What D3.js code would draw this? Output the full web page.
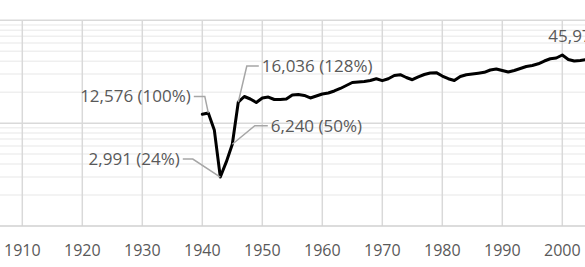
<!DOCTYPE html>
<html>
<head>
<meta charset="utf-8">
<script src="https://cdn.jsdelivr.net/npm/d3@7"></script>
<style>
  html, body { margin: 0; padding: 0; background: #fff; }
  svg { display: block; }
  text { font-family: "Open Sans", "Noto Sans", sans-serif; fill: #595959; }
</style>
</head>
<body>
<svg id="chart" width="585" height="267"></svg>
<script>
// ---- data ----
const years = d3.range(1940, 2005);
const values = [
  12200, 12576, 8600, 2991, 4200, 6240, 16036, 18160, 17170, 15870,
  17570, 17950, 16980, 16980, 17170, 18780, 18980, 18580, 17570, 18360,
  19200, 19650, 20560, 21730, 23230, 24850, 25120, 25400, 26000, 27040,
  25880, 27040, 29050, 29580, 27790, 26440, 28230, 29720, 30740, 30960,
  28730, 27040, 26000, 28430, 29580, 30060, 30600, 31200, 32880, 33650,
  32510, 31430, 32510, 33980, 35560, 36390, 37780, 40190, 42270, 42980,
  45973, 41590, 40190, 40640, 41590
];
const xTicks = [1910, 1920, 1930, 1940, 1950, 1960, 1970, 1980, 1990, 2000];
const labelYears = [1941, 1943, 1945, 1946, 2000];
const labelTexts = ["12,576 (100%)", "2,991 (24%)", "6,240 (50%)", "16,036 (128%)", "45,973 (366%)"];

// ---- layout ----
const W = 585, H = 267;
const plotTop = 20.3, plotBottom = 226;
const x = d3.scaleLinear().domain([1910, 2000]).range([22.3, 562.3]);
const y = d3.scaleLog().domain([1000, 100000]).range([plotBottom, plotTop]);

const svg = d3.select("#chart");

// minor horizontal gridlines
const minor = [];
[1000, 10000].forEach(d => { for (let k = 2; k <= 9; k++) minor.push(d * k); });
svg.append("g").selectAll("line").data(minor).join("line")
  .attr("x1", 0).attr("x2", W)
  .attr("y1", d => y(d)).attr("y2", d => y(d))
  .attr("stroke", "#efefef").attr("stroke-width", 1.5);

// major horizontal gridlines
svg.append("g").selectAll("line").data([10000, 100000]).join("line")
  .attr("x1", 0).attr("x2", W)
  .attr("y1", d => y(d)).attr("y2", d => y(d))
  .attr("stroke", "#d9d9d9").attr("stroke-width", 1.5);

// vertical gridlines
svg.append("g").selectAll("line").data(xTicks).join("line")
  .attr("x1", d => x(d)).attr("x2", d => x(d))
  .attr("y1", plotTop).attr("y2", plotBottom)
  .attr("stroke", "#d9d9d9").attr("stroke-width", 1.5);

// bottom axis line
svg.append("line")
  .attr("x1", 0).attr("x2", W).attr("y1", y(1000)).attr("y2", y(1000))
  .attr("stroke", "#d0d0d0").attr("stroke-width", 1.5);

// x tick labels
svg.append("g").selectAll("text").data(xTicks).join("text")
  .attr("x", d => x(d)).attr("y", 250.7).attr("dy", "0.35em")
  .attr("text-anchor", "middle").attr("font-size", 16)
  .text(d => d);

// data line
const pts = years.map((yr, i) => [yr, values[i]]);
svg.append("path")
  .datum(pts)
  .attr("fill", "none").attr("stroke", "#000").attr("stroke-width", 3)
  .attr("stroke-linejoin", "round").attr("stroke-linecap", "round")
  .attr("d", d3.line().x(d => x(d[0])).y(d => y(d[1])));

// labels and leader lines (offsets from the data point)
const offsets = {
  1941: { tx: -17.5, ty: -16.5, anchor: "end", leader: true, ex: -3.5 },
  1943: { tx: -40.5, ty: -18, anchor: "end", leader: true, ex: -27.5 },
  1945: { tx: 38.5, ty: -18.5, anchor: "start", leader: true, ex: 22.5 },
  1946: { tx: 23.5, ty: -36, anchor: "start", leader: true, ex: 8.5 },
  2000: { tx: -14, ty: -18.5, anchor: "start", leader: false, ex: 0 }
};
const lab = svg.append("g");
labelYears.forEach((yr, i) => {
  const v = values[years.indexOf(yr)];
  const px = x(yr), py = y(v);
  const o = offsets[yr];
  const ty = py + o.ty;
  if (o.leader) {
    const gap = o.anchor === "end" ? 3 : -3;
    lab.append("polyline")
      .attr("points", [[px, py], [px + o.ex, ty], [px + o.tx + gap, ty]].map(p => p.join(",")).join(" "))
      .attr("fill", "none").attr("stroke", "#a6a6a6").attr("stroke-width", 1.5);
  }
  lab.append("text")
    .attr("x", px + o.tx).attr("y", ty).attr("dy", "0.35em")
    .attr("text-anchor", o.anchor).attr("font-size", 17)
    .text(labelTexts[i]);
});
</script>
</body>
</html>
